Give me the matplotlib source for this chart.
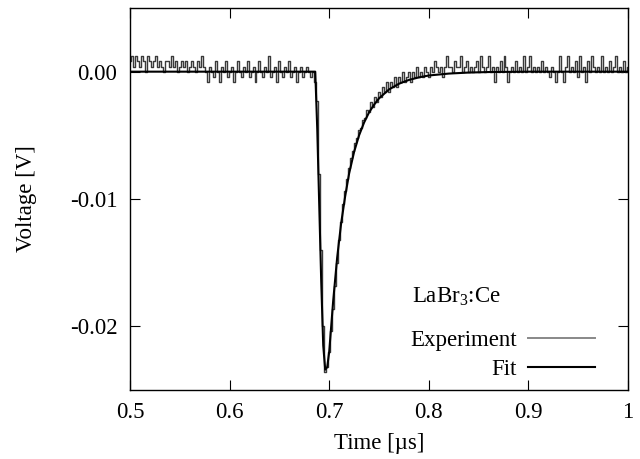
import numpy as np
import matplotlib
matplotlib.use("Agg")
import matplotlib.pyplot as plt

plt.rcParams['font.family'] = ['Liberation Serif', 'DejaVu Serif']
plt.rcParams['mathtext.fontset'] = 'custom'
plt.rcParams['mathtext.rm'] = 'Liberation Serif'

# Experimental trace, sampled every 0.002 us starting at 0.500 us (values in mV)
exp_start = 0.500
exp_step = 0.002
exp_pre_mV = [
    0.8, 1.2, 0.4, 1.2, 0.8, 0.4, 1.2, 0.8,
    0.0, 1.2, 0.8, 0.4, 0.8, 1.2, 0.4, 0.8,
    0.4, 0.0, 0.8, 0.8, 0.4, 1.2, 0.4, 0.8,
    0.0, 0.4, 0.8, 0.4, 0.8, 0.0, 0.4, 0.8,
    0.4, 0.0, 0.8, 0.4, 1.2, 0.4,
    0.0, -0.8, 0.4, 0.0, -0.4, 0.8, 0.0, -0.8,
    0.4, 0.0, 0.8, -0.4, 0.0, 0.4, -0.8, 0.0,
    0.8, 0.0, -0.4, 0.4, 0.0, 0.8, -0.4, 0.0,
    0.4, -0.8, 0.0, 0.8, 0.0, -0.4, 0.4, 0.0,
    1.2, -0.4, 0.0, 0.4, -0.8, 0.8, 0.0, -0.4,
    0.4, 0.0, 0.8, -0.4, 0.0, 0.4, -0.8, 0.0,
    0.4, -0.4, 0.0, 0.4, 0.0, -0.4, 0.0, -0.8,
]
exp_pulse_mV = [
    -2.3, -8.0, -14.0, -20.0, -23.6, -23.2, -22.0, -20.4, -18.6, -16.8,
    -15.0, -13.2, -11.8, -10.4, -9.4, -8.4, -7.6, -6.8, -6.2, -5.6,
    -5.2, -4.6, -4.4, -3.8, -3.6, -3.0, -3.2, -2.4, -2.8, -2.0,
    -2.4, -1.6, -2.0, -1.2, -1.6, -0.8, -1.6, -0.8, -1.2, -0.4,
    -1.2, -0.4, -0.8, 0.0, -0.8, -0.4, 0.0, -0.8, 0.0, -0.4,
    0.4, -0.4, 0.0, -0.4, 0.4, 0.0, -0.4,
]
exp_tail_mV = [
    0.4, 0.0, 0.8, 0.4, 0.0, 0.4, -0.4, 0.4, 1.2, 0.4,
    0.4, 0.0, 0.8, 0.4, 0.4, 1.2, 0.0, 0.4, 0.8, 0.0,
    0.4, 0.0, 0.4, 0.8, 0.0, 1.2, 0.4, 0.0, 0.4, 1.2,
    0.0, 0.4, -0.8, 0.4, 0.0, 0.8, 0.0, 1.2, 0.4, -0.8,
    0.0, 0.4, 0.0, 0.8, 0.0, 0.4, 0.0, 1.2, 0.0, 0.4,
    1.2, 0.0, 0.4, 0.0, 0.4, 0.0, 0.8, 0.0, 0.4, 0.0,
    -0.4, 0.4, 0.0, -0.8, 0.0, 1.2, 0.0, -0.8, 0.4, 1.2,
    0.0, 0.4, 0.0, 0.8, -0.4, 1.2, 0.0, 0.4, -0.8, 0.8,
    0.0, 1.2, 0.4, 0.0, 0.4, 0.0, 1.2, 0.0, 0.4, 0.0,
    0.8, 0.0, 0.4, 1.2, 0.0, 0.4, 0.0, 0.8, 0.0, 0.4,
]

# Fit curve (time in us, voltage in mV)
fit_t = [0.500, 0.686, 0.688, 0.690, 0.692, 0.694, 0.696, 0.698, 0.700,
         0.704, 0.708, 0.712, 0.716, 0.720, 0.725, 0.730, 0.735, 0.740,
         0.745, 0.750, 0.760, 0.770, 0.780, 0.790, 0.800, 0.820, 0.840,
         0.860, 0.900, 1.000]
fit_mV = [0.0, 0.0, -4.5, -10.5, -16.5, -21.5, -23.4, -23.2, -22.0,
          -18.0, -14.6, -11.9, -9.8, -8.0, -6.3, -5.0, -4.0, -3.2,
          -2.6, -2.1, -1.4, -0.95, -0.65, -0.45, -0.3, -0.15, -0.07,
          -0.03, 0.0, 0.0]

xticks = [0.5, 0.6, 0.7, 0.8, 0.9, 1.0]
xticklabels = ['0.5', '0.6', '0.7', '0.8', '0.9', '1']
yticks = [0.0, -0.01, -0.02]
yticklabels = ['0.00', '-0.01', '-0.02']

exp_mV = exp_pre_mV + exp_pulse_mV + exp_tail_mV
exp_t = exp_start + exp_step * np.arange(len(exp_mV))
exp_V = np.array(exp_mV) / 1000.0
fit_V = np.array(fit_mV) / 1000.0

fig = plt.figure(figsize=(6.4, 4.59), dpi=100)
ax = fig.add_axes([130/640, 1 - 390/459, 498/640, 382/459])

ax.plot(exp_t, exp_V, color='#3a3a3a', lw=1.0, drawstyle='steps-mid',
        label='Experiment')
ax.plot(fit_t, fit_V, color='black', lw=1.5, label='Fit')

ax.set_xlim(0.5, 1.0)
ax.set_ylim(-0.025, 0.005)
ax.set_xticks(xticks)
ax.set_xticklabels(xticklabels)
ax.set_yticks(yticks)
ax.set_yticklabels(yticklabels)
ax.tick_params(direction='in', length=7, width=0.8, top=True, right=True,
               labelsize=16.5, pad=9, colors='black')
for s in ax.spines.values():
    s.set_linewidth(1.0)

ax.set_xlabel('Time [\u00b5s]', fontsize=16.5, labelpad=7)
ax.set_ylabel('Voltage [V]', fontsize=16.5, labelpad=24)

ax.text(0.655, 0.245, 'LaBr$_3$:Ce', transform=ax.transAxes, fontsize=16.5,
        ha='center', va='center')

leg = ax.legend(loc='lower right', bbox_to_anchor=(0.975, -0.028),
                frameon=False, markerfirst=False, fontsize=16.5,
                handlelength=2.9, handletextpad=0.5, labelspacing=0.35)
leg.get_lines()[0].set_color('#888888')
leg.get_lines()[0].set_linewidth(1.4)

fig.savefig('out.png', dpi=100)
